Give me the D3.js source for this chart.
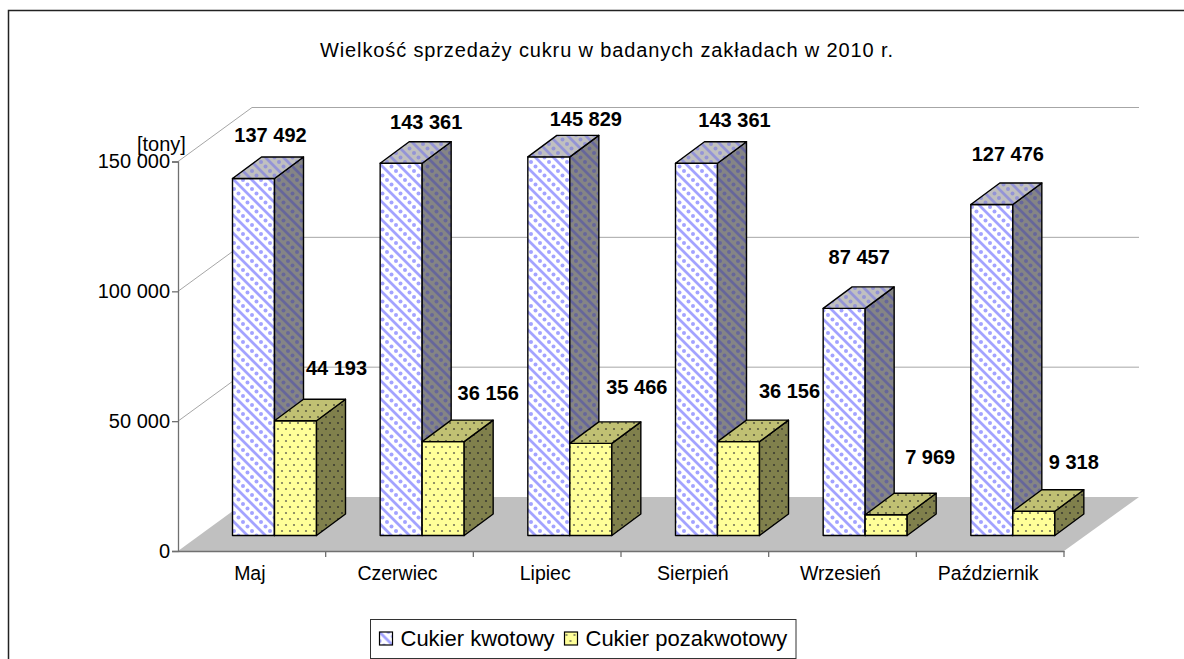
<!DOCTYPE html>
<html>
<head>
<meta charset="utf-8">
<style>
  html, body { margin: 0; background: #fff; overflow: hidden; }
  text { font-family: "Liberation Sans", Arial, sans-serif; fill: #000; }
</style>
<script src="https://cdn.jsdelivr.net/npm/d3@7"></script>
</head>
<body>
<svg id="chart" width="1184" height="659"></svg>
<script>
const months = ['Maj', 'Czerwiec', 'Lipiec', 'Sierpień', 'Wrzesień', 'Październik'];
const series_names = ['Cukier kwotowy', 'Cukier pozakwotowy'];
const kwotowy = [137492, 143361, 145829, 143361, 87457, 127476];
const pozakwotowy = [44193, 36156, 35466, 36156, 7969, 9318];
const y_ticks = [0, 50000, 100000, 150000];
const title_text = 'Wielkość sprzedaży cukru w badanych zakładach w 2010 r.';

const width = 1184;
const height = 659;
const depth_x = 74;
const depth_y = 54;
const bar_dx = 29;
const bar_dy = 21.5;
const bar_lift = 15.5;

const svg = d3.select('#chart');
const defs = svg.append('defs');

const fmt = d3.formatLocale({
  decimal: ',', thousands: ' ', grouping: [3], currency: ['', ''],
}).format(',d');

const x0 = d3.scaleBand().domain(months).range([178, 1064]);
const x1 = d3.scaleBand().domain(series_names).range([54.5, 138.5]);
const y = d3.scaleLinear().domain([0, 150000]).range([551, 161.5]);

const stripe_pattern = function (id, bg, stripe) {
  const p = defs.append('pattern')
    .attr('id', id)
    .attr('patternUnits', 'userSpaceOnUse')
    .attr('width', 18)
    .attr('height', 18);
  p.append('rect').attr('width', 18).attr('height', 18).attr('fill', bg);
  p.append('path')
    .attr('d', 'M-5 -5 L23 23 M13 -5 L23 5 M-5 13 L5 23')
    .attr('stroke', stripe)
    .attr('stroke-width', 2.8);
  [[0, 9], [4.5, 13.5], [9, 18], [13.5, 4.5], [18, 9], [9, 0]].forEach(function (d) {
    p.append('circle').attr('cx', d[0]).attr('cy', d[1]).attr('r', 2).attr('fill', stripe);
  });
};

const dot_pattern = function (id, bg, dot) {
  const p = defs.append('pattern')
    .attr('id', id)
    .attr('patternUnits', 'userSpaceOnUse')
    .attr('width', 16)
    .attr('height', 12);
  p.append('rect').attr('width', 16).attr('height', 12).attr('fill', bg);
  [[2, 3], [10, 3], [6, 9], [14, 9]].forEach(function (d) {
    p.append('circle').attr('cx', d[0]).attr('cy', d[1]).attr('r', 1.1).attr('fill', dot);
  });
};

stripe_pattern('kw-front', '#ffffff', '#a3a3ff');
stripe_pattern('kw-side', '#858585', '#66669a');
stripe_pattern('kw-top', '#c0c0c0', '#9494d6');
dot_pattern('po-front', '#ffff99', '#77775a');
dot_pattern('po-side', '#80804c', '#3c3c30');
dot_pattern('po-top', '#c0c073', '#5c5c40');

// outer frame: only the top and left edges are on the picture
svg.append('path')
  .attr('d', `M8.5 ${height} V10.5 H${width}`)
  .attr('fill', 'none')
  .attr('stroke', '#222')
  .attr('stroke-width', 1.5);

svg.append('text')
  .attr('x', 320)
  .attr('y', 57)
  .attr('textLength', 573)
  .attr('lengthAdjust', 'spacing')
  .style('font-size', '20px')
  .text(title_text);

// floor
const x_left = x0.range()[0];
const x_right = x0.range()[1];
svg.append('path')
  .attr('d', `M${x_left} ${y(0)} L${x_right} ${y(0)} L${x_right + depth_x + 1} ${y(0) - depth_y} L${x_left + depth_x} ${y(0) - depth_y} Z`)
  .attr('fill', '#c0c0c0');

// walls grid
const grid = svg.append('g')
  .attr('fill', 'none')
  .attr('stroke', '#a6a6a6');

grid.selectAll('path')
  .data(y_ticks.filter(d => d > 0))
  .join('path')
  .attr('d', d => `M${x_left} ${y(d)} L${x_left + depth_x} ${y(d) - depth_y} L${x_right + depth_x + 1} ${y(d) - depth_y}`);

// axes
const y_axis = svg.append('g')
  .attr('transform', `translate(${x_left},0)`)
  .call(d3.axisLeft(y).tickValues(y_ticks).tickFormat(fmt).tickSize(6).tickPadding(2));
y_axis.selectAll('text').style('font-size', '20px');
y_axis.selectAll('.domain, line').attr('stroke', '#707070').attr('stroke-width', 1.3);

const x_axis = svg.append('g')
  .attr('transform', `translate(-2,${y(0)})`)
  .call(d3.axisBottom(x0).tickSize(0).tickPadding(15));
x_axis.selectAll('text').style('font-size', '19.5px');
x_axis.select('.domain').attr('transform', 'translate(2,0)').attr('stroke', '#707070').attr('stroke-width', 1.3);
x_axis.selectAll('.edge')
  .data(months.slice(1).concat('end'))
  .join('line')
  .attr('class', 'edge')
  .attr('x1', d => (d === 'end' ? x_right : x0(d)) + 2)
  .attr('x2', d => (d === 'end' ? x_right : x0(d)) + 2)
  .attr('y1', 0)
  .attr('y2', 6)
  .attr('stroke', '#707070')
  .attr('stroke-width', 1.3);

svg.append('text')
  .attr('x', 137)
  .attr('y', 151)
  .style('font-size', '20px')
  .text('[tony]');

// one 3d box per value
const draw_box = function (g, x, w, value, kind) {
  const top = y(value) - bar_lift;
  const base = y(0) - bar_lift;
  const faces = [
    ['front', `M${x} ${base} V${top} H${x + w} V${base} Z`],
    ['side', `M${x + w} ${base} V${top} L${x + w + bar_dx} ${top - bar_dy} V${base - bar_dy} Z`],
    ['top', `M${x} ${top} L${x + bar_dx} ${top - bar_dy} H${x + w + bar_dx} L${x + w} ${top} Z`],
  ];
  faces.forEach(function (f) {
    g.append('path')
      .attr('d', f[1])
      .attr('fill', `url(#${kind}-${f[0]})`)
      .attr('stroke', '#000')
      .attr('stroke-width', 1.4)
      .attr('stroke-linejoin', 'round');
  });
};

const bars = svg.append('g');
months.forEach(function (m, i) {
  const g = bars.append('g');
  draw_box(g, x0(m) + x1(series_names[0]), x1.bandwidth(), kwotowy[i], 'kw');
  draw_box(g, x0(m) + x1(series_names[1]), x1.bandwidth(), pozakwotowy[i], 'po');
});

// data labels were placed by hand in the original, so each has its own nudge
const kw_nudge = [[38, -36], [46, -34], [58, -31], [59, -36], [36, -44], [37, -43]];
const po_nudge = [[62, -46], [66, -42], [67, -49], [72, -44], [65, -51], [61, -42]];

const draw_labels = function (values, nudges, name) {
  svg.append('g')
    .selectAll('text')
    .data(values)
    .join('text')
    .attr('x', (d, i) => x0(months[i]) + x1(name) + nudges[i][0])
    .attr('y', (d, i) => y(d) - bar_lift + nudges[i][1])
    .attr('text-anchor', 'middle')
    .style('font-size', '20px')
    .style('font-weight', 'bold')
    .text(d => fmt(d));
};
draw_labels(kwotowy, kw_nudge, series_names[0]);
draw_labels(pozakwotowy, po_nudge, series_names[1]);

// legend
const legend = svg.append('g');
legend.append('rect')
  .attr('x', 370.5)
  .attr('y', 619.5)
  .attr('width', 425.5)
  .attr('height', 39)
  .attr('fill', '#fff')
  .attr('stroke', '#333')
  .attr('stroke-width', 1);

const legend_items = legend.selectAll('g')
  .data(series_names)
  .join('g')
  .attr('transform', (d, i) => `translate(${i === 0 ? 379.5 : 564.5},632)`);

legend_items.append('rect')
  .attr('width', 13)
  .attr('height', 13)
  .attr('fill', (d, i) => (i === 0 ? 'url(#kw-front)' : 'url(#po-front)'))
  .attr('stroke', '#000')
  .attr('stroke-width', 1.2);

legend_items.append('text')
  .attr('x', 21)
  .attr('y', 14)
  .style('font-size', '22px')
  .text(d => d);
</script>
</body>
</html>
